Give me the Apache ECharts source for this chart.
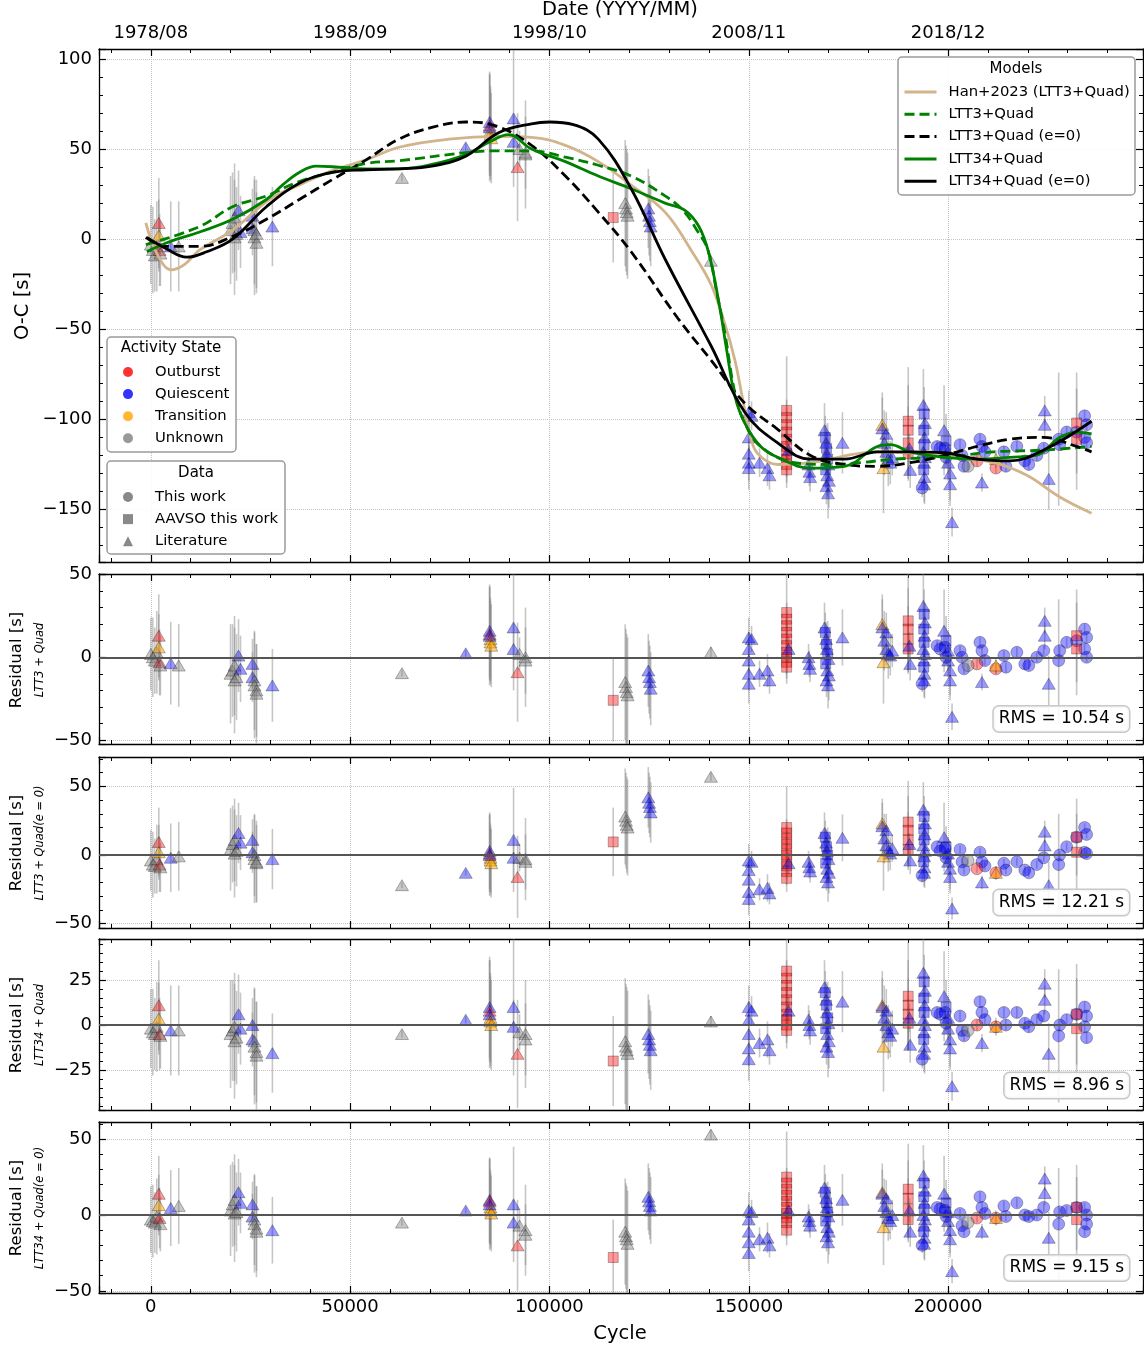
<!DOCTYPE html>
<html><head><meta charset="utf-8">
<script src="https://cdn.jsdelivr.net/npm/echarts@6/dist/echarts.min.js"></script>
<style>html,body{margin:0;padding:0;background:#fff}#c{width:1144px;height:1350px}</style>
</head><body><div id="c"></div>
<script>
// ================= DATA =================
const dateTickCycles = [0, 50000, 100000, 150000, 200000];
const dateTickLabels = ['1978/08', '1988/09', '1998/10', '2008/11', '2018/12'];
const modelNames = ['Han+2023 (LTT3+Quad)', 'LTT3+Quad', 'LTT3+Quad (e=0)', 'LTT34+Quad', 'LTT34+Quad (e=0)'];
const residualNames = ['LTT3 + Quad', 'LTT3 + Quad(e = 0)', 'LTT34 + Quad', 'LTT34 + Quad(e = 0)'];
const rmsLabels = ['RMS = 10.54 s', 'RMS = 12.21 s', 'RMS = 8.96 s', 'RMS = 9.15 s'];
const stateNames = ['Outburst', 'Quiescent', 'Transition', 'Unknown'];
const sourceNames = ['This work', 'AAVSO this work', 'Literature'];

// model curves [cycle, O-C s]
const hanCurve = [[-1250,9],[1750,-9],[5250,-17],[8500,-14],[12250,-6],[20500,5],[29750,22],[37250,30],[45500,38],[54000,44],[62250,51],[74750,55.5],[87250,57],[95500,56.5],[104000,52],[112250,43],[120500,30],[129000,15],[135500,-6],[140500,-25],[144000,-47],[146500,-67],[148500,-89],[150250,-108],[152250,-119],[157250,-125],[165500,-124],[182250,-118],[199000,-120],[211500,-124],[219750,-131],[228000,-143],[236000,-152]];
const ltt3Curve = [[-1250,-3],[12250,7],[20500,18],[29000,24],[37250,32],[45500,37],[54000,42],[62250,43.5],[79000,48],[87250,49],[95500,49],[104000,45.5],[112250,41],[120500,35],[129000,24],[133500,16],[137000,5],[139750,-6],[142000,-30],[144000,-52],[146500,-85],[149000,-102],[153000,-115],[161500,-124],[169750,-125],[178000,-124],[186500,-122],[199000,-121],[211500,-118],[224000,-117],[236000,-115]];
const ltt3e0Curve = [[-1250,1],[4000,-4],[12250,-4],[20500,1.5],[29000,11],[37250,22],[45500,33],[54000,44],[62250,55.5],[70500,62],[79000,65],[87000,62.5],[95500,52],[104000,35],[112250,15],[120500,-7],[132250,-44],[140500,-67],[149000,-91],[157250,-105.5],[165500,-120],[174000,-125],[182250,-126],[190500,-124],[199000,-120],[207250,-115],[215500,-111],[224000,-110],[232250,-115],[236000,-118]];
const ltt34Curve = [[-1000,-7],[4000,-2],[12250,4],[20500,11],[29000,22],[33000,30],[37250,37],[41500,40.5],[47000,40],[54000,39],[62250,39],[70500,41.5],[79000,47],[85000,54],[89750,58],[95500,50],[104000,43],[112250,35],[120500,28],[129000,20],[134000,16],[137500,7],[140000,-8],[142500,-35],[144500,-62],[146500,-87],[149000,-102],[153000,-115],[157250,-121],[165500,-127],[174000,-126],[182250,-115],[185500,-114],[190500,-118],[199000,-121],[207250,-122],[215500,-121],[222000,-120],[228000,-110],[232250,-107],[236000,-108]];
const ltt34e0Curve = [[-1000,1],[4000,-5.5],[9000,-10],[14000,-7],[20500,0],[29000,18],[37250,31],[45500,37],[54000,38.5],[62250,39],[70500,40.5],[79000,46],[87250,59],[95500,64],[100000,65],[106000,63.5],[112250,55.5],[120500,28],[129000,-11],[140500,-59],[149000,-96],[157250,-113],[165500,-122],[174000,-122],[182250,-118],[190500,-118],[199000,-118.5],[207250,-122],[215500,-123],[224000,-117],[236000,-101]];

// observations (one entry per timing)
const cycles = [
 0, 500, 1000, 1500, 2000, 2000, 2200, 2400,
 5000, 7000,
 20000, 20500, 21000, 21000, 21500, 22000, 22500,
 25500, 25500, 26000, 26000, 26500, 26500,
 30500, 63000, 79000,
 85000, 85000, 85200, 85200, 85400, 85000,
 91000, 91000, 92000, 92500, 94000, 94000,
 116000,
 119000, 119200, 119400, 119600,
 124800, 125000, 125200, 125400,
 140500,
 150000, 150000, 150000, 150000, 150000, 150700, 152700, 154700, 155200,
 159500, 159500, 159500, 159500, 159500, 159500, 159500, 159500, 159500, 159500, 160000,
 165000, 165200, 165400,
 169000, 169200, 169400, 169500, 169600, 169800, 170000, 169300, 169700, 170100, 169500, 169900,
 173500,
 183500, 183500, 184500, 184000, 184500, 185000, 185500, 183800, 186000,
 190000, 190000, 190000, 190000, 190300, 190500,
 193800, 194000, 194200, 193900, 194100, 194000, 193800, 194200, 194000, 193900, 194100, 194000, 193500,
 199000, 199500, 200000, 200000, 200500, 200500, 201000, 198000, 199500,
 197250, 199250, 203000, 203500, 204000, 208000, 208500, 209250, 207250, 212000, 214000, 214500, 217250, 219250, 220250, 222250, 224000, 227750, 228000, 229750, 232250, 234250, 234750, 234250, 234750,
 208500, 224250, 224250, 225250,
 232250, 232250,
 212000, 205000
];
const ocValues = [
 -3, -6, -9, -4, 9, 2, -6, -8,
 -4, -4,
 5, 9, 1, 12, 3, 16, 4,
 13, 6, 5, 1, -2, 3,
 7, 34, 51,
 65, 63, 60, 58, 56, 62,
 67, 54, 40, 50, 47, 48,
 12,
 20, 17, 15, 13,
 17, 13, 10, 7,
 -12,
 -96, -110, -119, -124, -127, -98, -124, -127, -131,
 -95, -99, -103, -107, -111, -115, -119, -122, -125, -128, -117,
 -125, -129, -132,
 -106, -110, -113, -116, -119, -122, -125, -128, -131, -134, -137, -141,
 -113,
 -103, -105, -108, -113, -118, -122, -124, -127, -121,
 -101, -106, -113, -119, -116, -128,
 -92, -97, -102, -106, -110, -114, -118, -121, -124, -128, -132, -136, -138,
 -106, -112, -118, -124, -130, -136, -157, -116, -121,
 -115, -116, -114, -120, -126, -111, -115, -118, -123, -127, -118, -126, -115, -123, -125, -120, -116, -111, -114, -107, -107, -98, -103, -110, -113,
 -135, -95, -103, -133,
 -102, -111,
 -122, -126
];
const errors = [
 22, 24, 20, 25, 25, 20, 20, 18,
 25, 25,
 30, 28, 32, 30, 26, 22, 20,
 15, 15, 30, 32, 28, 30,
 22, 2, 2,
 28, 28, 25, 25, 25, 30,
 38, 15, 30, 10, 30, 20,
 25,
 35, 35, 35, 35,
 22, 22, 22, 22,
 3,
 12, 10, 8, 10, 12, 8, 8, 10, 8,
 30, 10, 10, 10, 10, 10, 10, 10, 10, 10, 8,
 8, 8, 8,
 15, 12, 10, 10, 12, 20, 15, 10, 12, 15, 10, 14,
 17,
 15, 20, 12, 18, 10, 15, 12, 25, 10,
 30, 25, 20, 15, 8, 10,
 20, 15, 12, 10, 12, 20, 10, 8, 12, 10, 15, 10, 5,
 25, 15, 12, 10, 15, 12, 8, 4, 4,
 3, 3, 3, 3, 3, 3, 3, 3, 3, 3, 3, 3, 3, 3, 3, 3, 3, 37, 3, 3, 3, 3, 3, 3, 3,
 5, 8, 8, 17,
 28, 28,
 5, 3
];
// O = Outburst, Q = Quiescent, T = Transition, U = Unknown
const states = [
 'U','U','U','U','O','T','O','U',
 'Q','U',
 'U','U','U','U','U','Q','Q',
 'Q','Q','U','U','U','U',
 'Q','U','Q',
 'Q','O','T','T','T','Q',
 'Q','Q','O','U','U','U',
 'O',
 'U','U','U','U',
 'Q','Q','Q','Q',
 'U',
 'Q','Q','Q','Q','Q','Q','Q','Q','Q',
 'O','O','O','O','O','O','O','O','O','O','Q',
 'Q','Q','Q',
 'Q','Q','Q','Q','Q','Q','Q','Q','Q','Q','Q','Q',
 'Q',
 'T','Q','Q','Q','Q','Q','Q','T','Q',
 'O','O','O','O','Q','Q',
 'Q','Q','Q','Q','Q','Q','Q','Q','Q','Q','Q','Q','Q',
 'Q','Q','Q','Q','Q','Q','Q','Q','Q',
 'Q','Q','Q','Q','Q','Q','Q','Q','O','O','Q','Q','Q','Q','Q','Q','Q','Q','Q','Q','Q','Q','Q','Q','Q',
 'Q','Q','Q','Q',
 'O','O',
 'T','U'
];
// W = This work, A = AAVSO this work, L = Literature
const sources = [
 'L','L','L','L','L','L','L','L',
 'L','L',
 'L','L','L','L','L','L','L',
 'L','L','L','L','L','L',
 'L','L','L',
 'L','L','L','L','L','L',
 'L','L','L','L','L','L',
 'A',
 'L','L','L','L',
 'L','L','L','L',
 'L',
 'L','L','L','L','L','L','L','L','L',
 'A','A','A','A','A','A','A','A','A','A','L',
 'L','L','L',
 'L','A','L','A','L','A','L','A','L','L','L','L',
 'L',
 'L','L','L','L','L','L','L','L','L',
 'A','A','A','A','L','L',
 'L','A','L','A','L','A','L','L','L','A','L','L','W',
 'L','A','L','L','L','L','L','W','W',
 'W','W','W','W','W','W','W','W','W','W','W','W','W','W','W','W','W','W','W','W','W','W','W','W','W',
 'L','L','L','L',
 'A','A',
 'L','W'
];
const resLTT3Quad = [
 2, 0, -2, 3, 13, 6, -3, -5,
 -3.6, -5,
 -10, -8, -14, -5, -12, 1, -7,
 -4, -12, -14, -17, -20, -22,
 -17, -9.6, 2.4,
 16, 14, 11, 9, 7, 13,
 18, 5, -9, 2, 0, -2,
 -26,
 -15, -18, -21, -23,
 -8, -12, -15, -19,
 3,
 12, 5, -2, -10, -16, 11, -10, -8, -14,
 27, 23, 19, 15, 11, 7, 3, 0, -3, -6, 5,
 0, -4, -7,
 18, 15, 11, 8, 5, 2, -1, -4, -8, -11, -14, -17,
 12,
 20, 18, 15, 10, 5, 2, 1, -3, 4,
 22, 17, 11, 5, 7, -4,
 31, 26, 21, 17, 13, 9, 5, 2, -2, -6, -10, -14, -16,
 16, 10, 4, -2, -8, -14, -36, 5, 0,
 7, 6, 4, 0, -7, 9, 4, -2, -4, -7, 1, -6, 3, -4, -5, 0, 4, -2, 4, 9, 10, 17, 12, 5, 0,
 -15, 22, 13, -16,
 13, 5,
 -5, -5
];
const resLTT3QuadE0 = [
 -4, -7, -8, -3, 9.5, 2, -7, -9,
 -2, -1,
 4, 8, 1, 11, 3, 16, 9,
 11, 2, 0, -3, -6, -5,
 -3, -22, -13,
 3, 1, -2, -4, -6, 0,
 11, -2, -16, -2, -3, -5,
 9.5,
 28, 25, 22, 20,
 42, 38, 35, 31,
 57,
 -4, -11, -18, -27, -32, -5, -25, -24, -28,
 20, 16, 12, 8, 4, 0, -4, -8, -12, -17, -6,
 -5, -9, -12,
 16, 13, 9, 6, 3, 0, -3, -6, -10, -13, -16, -20,
 12.5,
 23, 21, 18, 12, 7, 3, 1, -1, 5,
 24, 18, 11, 4, 8, -4,
 33, 28, 23, 19, 15, 11, 7, 3, -1, -5, -9, -13, -15,
 13, 6, 1, -5, -10, -16, -39, 3, -2,
 6, 5, 4, -5, -11, 2, -5, -8, -10, -13, -6, -11, -5, -11, -13, -7, -2, -7, 0, 6, 13, 20, 15, 2, 1,
 -20, 17, 7, -22,
 13, 2,
 -13, -4
];
const resLTT34Quad = [
 -2, -4, -5, -1, 11, 3.5, -5, -6,
 -3, -3,
 -5, -3, -9, -1, -7, 6, -2,
 0, -8, -9, -12, -15, -17,
 -15.6, -5, 3,
 10, 8, 4, 2, 0, 6,
 10, -1, -16, -4, -5, -8,
 -20,
 -9, -12, -14, -16,
 -5, -8, -11, -14,
 2,
 10, 3, -5, -13, -19, 8, -10, -8, -14,
 30, 26, 22, 18, 14, 10, 6, 3, 0, -3, 8,
 3, 0, -3,
 21, 18, 14, 11, 7, 4, 1, -2, -5, -9, -12, -15,
 13,
 11, 10, 8, 4, 0, -4, -6, -12, -2,
 16, 11, 6, 1, 4, -11,
 29, 24, 19, 15, 11, 7, 3, 0, -4, -8, -12, -16, -19,
 16, 10, 4, -2, -8, -13, -34, 6, 1,
 7, 7, 5, -3, -6, 13, 7, 3, 0, -1, 7, 0, 7, 1, -1, 3, 5, -6, 0, 3, 6, 10, 5, -1, -7,
 -10, 23, 14, -16,
 6, -2,
 -1, -3
];
const resLTT34QuadE0 = [
 -3, -4, -5, -1, 14, 6.5, -2, -6,
 4.6, 6,
 3, 7, 1, 10, 2, 15, 8,
 7, -1, -3, -6, -9, -11,
 -10, -5, 3,
 10, 9, 5, 3, 1, 7,
 7, -5, -20, -7, -10, -13,
 -28,
 -11, -14, -16, -19,
 12, 9, 6, 3,
 53,
 3, -3, -11, -18, -25, 2, -16, -15, -20,
 25, 21, 17, 13, 9, 5, 1, -2, -5, -10, 3,
 -1, -4, -7,
 18, 15, 11, 8, 5, 2, -1, -4, -8, -11, -14, -18,
 10,
 15, 14, 11, 6, 2, -2, -4, -8, 0,
 17, 11, 4, -3, 3, -11,
 26, 21, 16, 12, 8, 4, 0, -3, -7, -11, -15, -19, -20,
 14, 8, 2, -4, -10, -16, -37, 4, -1,
 5, 3, 1, -7, -11, 12, 5, 1, -2, -2, 6, -1, 8, 0, -1, 0, 5, -6, 2, 3, 5, 5, 0, -11, -6,
 -11, 24, 14.5, -15,
 5, -3,
 -2, -5
];

// ================= STYLE / LAYOUT =================
const FONT = 'DejaVu Sans';
const XMIN = -13000, XMAX = 248900;
const panels = [
  {top: 49,   height: 513, min: -179.1, max: 105.5, step: 50},
  {top: 574,  height: 170, min: -52.4,  max: 50.3,  step: 50},
  {top: 757,  height: 171, min: -53.2,  max: 71.4,  step: 50},
  {top: 939,  height: 171, min: -47.2,  max: 47.8,  step: 25},
  {top: 1122, height: 171, min: -51.4,  max: 61.3,  step: 50}
];
const panelValues = [ocValues, resLTT3Quad, resLTT3QuadE0, resLTT34Quad, resLTT34QuadE0];
const stateFill = {O: 'rgba(255,0,0,0.5)', Q: 'rgba(0,0,255,0.5)', T: 'rgba(255,165,0,0.65)', U: 'rgba(128,128,128,0.55)'};
const stateSolid = {Outburst: '#ff0000', Quiescent: '#0000ff', Transition: '#ffa500', Unknown: '#808080'};
const srcSymbol = {W: ['circle', 12], A: ['rect', 10], L: ['triangle', [13, 11]]};
const modelStyles = [
  {color: '#d2b48c', type: 'solid'},
  {color: '#008000', type: [10, 5]},
  {color: '#000000', type: [10, 5]},
  {color: '#008000', type: 'solid'},
  {color: '#000000', type: 'solid'}
];
const modelCurves = [hanCurve, ltt3Curve, ltt3e0Curve, ltt34Curve, ltt34e0Curve];

const minus = v => (v < 0 ? '\u2212' + Math.abs(v) : String(v));

const option = {
  animation: false,
  backgroundColor: '#ffffff',
  grid: panels.map(p => ({left: 99, width: 1044, top: p.top, height: p.height, containLabel: false})),
  xAxis: [], yAxis: [], series: [], legend: [], graphic: {elements: []}
};

const tickCommon = {
  axisLine: {show: true, onZero: false, lineStyle: {color: '#000', width: 1.3}},
  axisTick: {show: true, inside: true, length: 7, lineStyle: {color: '#000', width: 1.2}},
  minorTick: {show: true, splitNumber: 5, length: 4, lineStyle: {color: '#000', width: 1}}
};
const gridLine = {show: true, lineStyle: {color: '#c4c4c4', type: 'dotted', width: 1}};
const labelBase = {fontSize: 18, fontFamily: FONT, color: '#000', showMinLabel: false, showMaxLabel: false};

panels.forEach((p, gi) => {
  const xc = Object.assign({gridIndex: gi, type: 'value', min: XMIN, max: XMAX, minInterval: 50000, maxInterval: 50000}, tickCommon);
  option.xAxis.push(Object.assign({}, xc, {
    position: 'bottom',
    axisLabel: Object.assign({show: gi === 4, margin: 5, formatter: v => String(v)}, labelBase),
    splitLine: gridLine
  }));
  option.xAxis.push(Object.assign({}, xc, {
    position: 'top',
    axisLabel: Object.assign({show: gi === 0, margin: 7,
      formatter: v => { const k = dateTickCycles.indexOf(v); return k >= 0 ? dateTickLabels[k] : ''; }}, labelBase),
    splitLine: {show: false}
  }));
  const yc = Object.assign({gridIndex: gi, type: 'value', min: p.min, max: p.max, minInterval: p.step, maxInterval: p.step}, tickCommon);
  option.yAxis.push(Object.assign({}, yc, {
    position: 'left',
    axisLabel: Object.assign({show: true, margin: 7, formatter: minus}, labelBase),
    splitLine: gridLine
  }));
  option.yAxis.push(Object.assign({}, yc, {position: 'right', axisLabel: {show: false}, splitLine: {show: false}}));

  const vals = panelValues[gi];
  const errSeries = {
    type: 'custom', xAxisIndex: gi * 2, yAxisIndex: gi * 2, clip: true, z: 1, silent: true,
    data: cycles.map((c, i) => [c, vals[i], errors[i]]),
    renderItem: (params, api) => {
      const c = api.value(0), v = api.value(1), e = api.value(2);
      const a = api.coord([c, v - e]), b = api.coord([c, v + e]);
      return {type: 'line', shape: {x1: a[0], y1: a[1], x2: b[0], y2: b[1]},
        style: {stroke: 'rgba(128,128,128,0.45)', lineWidth: 1.6}};
    }
  };
  if (gi > 0) {
    errSeries.markLine = {silent: true, symbol: ['none', 'none'], label: {show: false},
      lineStyle: {color: '#555', width: 2, type: 'solid'}, data: [{yAxis: 0}]};
  }
  option.series.push(errSeries);
  option.series.push({
    type: 'scatter', xAxisIndex: gi * 2, yAxisIndex: gi * 2, z: 2, silent: true, clip: true,
    data: cycles.map((c, i) => ({
      value: [c, vals[i]],
      symbol: srcSymbol[sources[i]][0],
      symbolSize: srcSymbol[sources[i]][1],
      itemStyle: {color: stateFill[states[i]], borderColor: 'rgba(0,0,0,0.45)', borderWidth: 0.8}
    }))
  });
});

modelNames.forEach((name, k) => {
  option.series.push({
    name, type: 'line', xAxisIndex: 0, yAxisIndex: 0, z: 3, silent: true,
    data: modelCurves[k], smooth: 0.4, symbol: 'none', showSymbol: false,
    lineStyle: {color: modelStyles[k].color, width: 2.8, type: modelStyles[k].type},
    itemStyle: {color: modelStyles[k].color}
  });
});
stateNames.concat(sourceNames).forEach(n => {
  option.series.push({name: n, type: 'scatter', xAxisIndex: 0, yAxisIndex: 0, data: [], itemStyle: {color: stateSolid[n] || '#666'}});
});

const legendText = {fontSize: 14.8, fontFamily: FONT, color: '#000', lineHeight: 15};
option.legend.push({
  data: modelNames, orient: 'vertical', left: 903, top: 84.5, padding: 0, itemWidth: 32, itemHeight: 14, itemGap: 7.3,
  selectedMode: false, z: 60, lineStyle: {width: 3},
  itemStyle: {color: 'rgba(0,0,0,0)', borderColor: 'rgba(0,0,0,0)', borderWidth: 0, opacity: 0},
  textStyle: Object.assign({padding: [0, 0, 0, 7]}, legendText)
});
option.legend.push({
  data: stateNames.map(n => ({name: n, icon: 'circle', itemStyle: {color: stateSolid[n]}})),
  orient: 'vertical', left: 123, top: 364.5, padding: 0, itemWidth: 10, itemHeight: 10, itemGap: 7.1,
  selectedMode: false, z: 60, textStyle: Object.assign({padding: [0, 0, 0, 17]}, legendText)
});
option.legend.push({
  data: [{name: 'This work', icon: 'circle'}, {name: 'AAVSO this work', icon: 'rect'}, {name: 'Literature', icon: 'triangle'}]
    .map(d => Object.assign(d, {itemStyle: {color: '#6b6b6b'}})),
  orient: 'vertical', left: 123, top: 489.5, padding: 0, itemWidth: 10, itemHeight: 10, itemGap: 7.1,
  selectedMode: false, z: 60, textStyle: Object.assign({padding: [0, 0, 0, 17]}, legendText)
});

const G = option.graphic.elements;
const box = (x, y, w, h) => ({type: 'rect', z: 50, shape: {x, y, width: w, height: h, r: 4},
  style: {fill: 'rgba(255,255,255,0.88)', stroke: '#9a9a9a', lineWidth: 1.5}});
const txt = (x, y, text, size, extra) => Object.assign({type: 'text', x, y, z: 60,
  style: {text, font: size + 'px "' + FONT + '"', fill: '#000', align: 'center', verticalAlign: 'middle'}}, extra || {});
G.push(box(898, 57, 237, 138), txt(1016, 69, 'Models', 15));
G.push(box(107, 337, 129, 115), txt(171, 348, 'Activity State', 15));
G.push(box(107, 461, 178, 93), txt(196, 473, 'Data', 15));
G.push(txt(620, 10, 'Date (YYYY/MM)', 19.5));
G.push(txt(620, 1334, 'Cycle', 19.5));
G.push(txt(23, 306, 'O-C [s]', 19.5, {rotation: Math.PI / 2}));
const resCenters = [660, 843, 1025, 1208];
resCenters.forEach((cy, k) => {
  G.push(txt(17, cy, 'Residual [s]', 16.5, {rotation: Math.PI / 2}));
  const t = txt(40, cy, residualNames[k], 11.5, {rotation: Math.PI / 2});
  t.style.font = 'italic 11.5px "' + FONT + '"';
  G.push(t);
});
const rmsY = [719, 902.5, 1085.5, 1268];
rmsY.forEach((y, k) => {
  G.push({type: 'text', x: 1129, y, z: 60, style: {text: rmsLabels[k], font: '17px "' + FONT + '"', fill: '#000',
    align: 'right', verticalAlign: 'middle', backgroundColor: 'rgba(255,255,255,0.85)', borderColor: '#c8c8c8',
    borderWidth: 1.5, borderRadius: 5, padding: [4, 5, 4, 5]}});
});

const chart = echarts.init(document.getElementById('c'), null, {renderer: 'canvas'});
chart.setOption(option);
</script>
</body></html>
